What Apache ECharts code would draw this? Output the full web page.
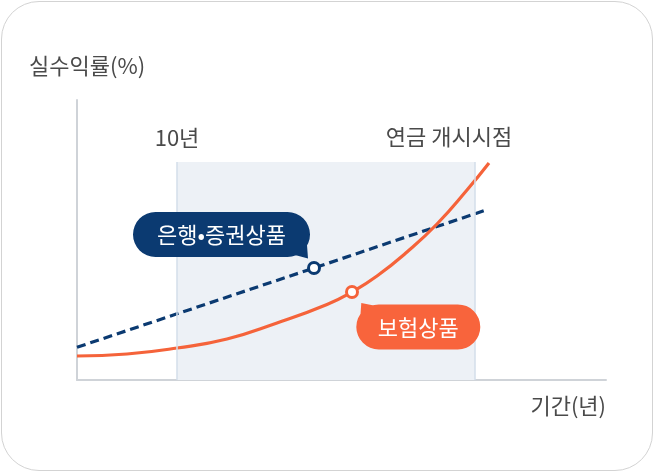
<!DOCTYPE html>
<html>
<head>
<meta charset="utf-8">
<script src="https://cdn.jsdelivr.net/npm/echarts@6/dist/echarts.min.js"></script>
<style>
  html, body { margin: 0; padding: 0; background: #fff; }
  #frame {
    position: absolute; left: 1px; top: 1px; width: 652px; height: 470px;
    box-sizing: border-box; border: 1.5px solid #d3d3d3; border-radius: 38px;
  }
  #chart { position: absolute; left: 0; top: 0; width: 654px; height: 472px; }
</style>
</head>
<body>
<div id="frame"></div>
<div id="chart"></div>
<script>
(function() {
  var font = '"Noto Sans CJK KR", "Noto Sans", sans-serif';
  var navy = '#0b3a71';
  var orange = '#f5633a';
  var ink = '#4a4a4a';
  var rule = '#cfd3d8';
  var fs = 22;

  // [year, return] points
  var bankLine = [[0, 3.27], [23.7, 11.2], [40.7, 16.93]];
  var insLine = [[0, 2.4], [5, 2.6], [10, 3.2], [15, 4.1], [20, 5.7], [25, 7.55], [27.5, 8.8],
                 [30, 10.4], [33, 12.8], [36, 15.6], [39, 19.0], [41.2, 21.7]];
  var bankMarkIdx = 1;
  var insMarkIdx = 6;
  var bankName = '은행•증권상품';
  var insName = '보험상품';

  // period band (10 years -> annuity start)
  var periodStart = 10;
  var periodEnd = 39.8;
  var periodTop = 21.8;
  var periodLabels = [
    { name: '10년', coord: [10, 24.2] },
    { name: '연금 개시시점', coord: [37.2, 24.3] }
  ];

  var yName = '실수익률(%)';
  var xName = '기간(년)';

  // speech bubbles: pill + tail
  var bankBubble = 'path://M22.5 0H154.5A22.5 22.5 0 0 1 154.5 45H22.5A22.5 22.5 0 0 1 22.5 0Z' +
                   'M175 46.5L162 43L174 33Z';
  var insBubble = 'path://M22.5 1.5H101.5A22.5 22.5 0 0 1 101.5 46.5H22.5A22.5 22.5 0 0 1 22.5 1.5Z' +
                  'M5 0L20 3L4 14Z';

  function withMarker(points, idx, color) {
    return points.map(function(p, i) {
      if (i !== idx) return { value: p };
      return {
        value: p,
        symbol: 'circle',
        symbolSize: 11,
        itemStyle: { color: '#fff', borderColor: color, borderWidth: 3 }
      };
    });
  }

  var chart = echarts.init(document.getElementById('chart'), null, { renderer: 'canvas' });
  chart.setOption({
    animation: false,
    textStyle: { fontFamily: font },
    grid: { left: 77, right: 48, top: 100, bottom: 92 },
    xAxis: {
      type: 'value', min: 0, max: 52.9,
      axisLine: { show: true, lineStyle: { color: rule, width: 2 } },
      axisTick: { show: false }, axisLabel: { show: false }, splitLine: { show: false }
    },
    yAxis: {
      type: 'value', min: 0, max: 28,
      axisLine: { show: true, lineStyle: { color: rule, width: 2 } },
      axisTick: { show: false }, axisLabel: { show: false }, splitLine: { show: false }
    },
    graphic: [
      { type: 'text', left: 29, top: 55, style: { text: yName, font: fs + 'px ' + font, fill: ink } },
      { type: 'text', right: 48, top: 395, style: { text: xName, font: fs + 'px ' + font, fill: ink } }
    ],
    series: [
      {
        name: 'period',
        type: 'line',
        data: [],
        silent: true,
        markArea: {
          silent: true,
          itemStyle: { color: '#edf1f6' },
          data: [[{ coord: [periodStart, 0] }, { coord: [periodEnd, periodTop] }]]
        },
        markLine: {
          silent: true,
          symbol: 'none',
          label: { show: false },
          lineStyle: { color: '#d3deea', width: 1.5, type: 'solid' },
          data: [
            [{ coord: [periodStart, 0] }, { coord: [periodStart, periodTop] }],
            [{ coord: [periodEnd, 0] }, { coord: [periodEnd, periodTop] }]
          ]
        },
        markPoint: {
          silent: true,
          symbol: 'rect',
          symbolSize: 1,
          itemStyle: { color: 'rgba(0,0,0,0)' },
          label: { show: true, position: 'inside', color: ink, fontSize: fs, fontFamily: font,
                   formatter: '{b}' },
          data: periodLabels
        }
      },
      {
        name: bankName,
        type: 'line',
        data: withMarker(bankLine, bankMarkIdx, navy),
        symbol: 'none',
        lineStyle: { color: navy, width: 3.2, type: [9, 5] },
        itemStyle: { color: navy },
        z: 3,
        markPoint: {
          silent: true,
          symbol: bankBubble,
          symbolSize: [177, 46.5],
          symbolOffset: [-92.5, -32.75],
          itemStyle: { color: navy },
          label: { show: true, position: 'inside', color: '#fff', fontSize: fs, fontFamily: font,
                   offset: [0, -1], formatter: bankName },
          data: [{ coord: bankLine[bankMarkIdx] }]
        }
      },
      {
        name: insName,
        type: 'line',
        smooth: 0.5,
        data: withMarker(insLine, insMarkIdx, orange),
        symbol: 'none',
        lineStyle: { color: orange, width: 3.2 },
        itemStyle: { color: orange },
        z: 4,
        markPoint: {
          silent: true,
          symbol: insBubble,
          symbolSize: [124, 46.5],
          symbolOffset: [66.3, 34.15],
          itemStyle: { color: '#f8643c' },
          label: { show: true, position: 'inside', color: '#fff', fontSize: fs, fontFamily: font,
                   offset: [0, 1], formatter: insName },
          data: [{ coord: insLine[insMarkIdx] }]
        }
      }
    ]
  });
  window.addEventListener('resize', function() { chart.resize(); });
})();
</script>
</body>
</html>
